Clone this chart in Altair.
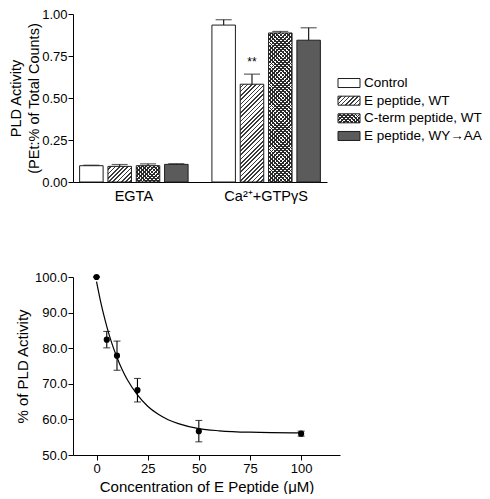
import altair as alt
import pandas as pd

# ---------------- data: top panel (bar chart) ----------------
groups = ["EGTA", "Ca²⁺+GTPγS"]
treatments = ["Control", "E peptide, WT", "C-term peptide, WT", "E peptide, WY→AA"]
egta_values = [0.097, 0.093, 0.097, 0.105]
egta_errors = [0.003, 0.011, 0.011, 0.004]
ca_values = [0.934, 0.582, 0.887, 0.844]
ca_errors = [0.032, 0.060, 0.009, 0.074]
egta_marks = ["", "", "", ""]
ca_marks = ["", "**", "", ""]

# ---------------- data: bottom panel (dose response) ----------------
conc = [0, 5, 10, 20, 50, 100]
activity = [100.0, 82.4, 77.9, 68.2, 56.7, 56.0]
activity_err = [0.0, 2.3, 4.1, 3.3, 3.0, 0.7]
fit_conc = [0, 2, 4, 6, 8, 10, 12.5, 15, 20, 25, 30, 35, 40, 50, 60, 75, 100]
fit_activity = [98.7, 93.1, 88.3, 84.1, 80.5, 77.4, 74.0, 71.2, 66.9, 63.7, 61.5,
                59.9, 58.8, 57.4, 56.8, 56.4, 56.2]

FONT = "Liberation Sans"
W_TOP, H_TOP = 254, 168
W_BOT, H_BOT = 267, 178

rows = []
for g, vals, errs, marks in zip(groups, [egta_values, ca_values],
                                [egta_errors, ca_errors], [egta_marks, ca_marks]):
    for t, v, e, m in zip(treatments, vals, errs, marks):
        rows.append({"group": g, "treatment": t, "value": v, "top": v + e, "sig": m})
top_df = pd.DataFrame(rows)

# bar geometry (for hatch gradients only)
PI_OUT, PO_OUT, PI_IN = 0.18, 0.05, 0.17
step = W_TOP / (len(groups) - PI_OUT + 2 * PO_OUT)
band = step * (1 - PI_OUT)
bar_w = band / (len(treatments) - PI_IN) * (1 - PI_IN)


def stripes(w, h, period, frac, color, bg, direction):
    s = (w + h) / (w * w + h * h)
    n = (w + h) / (period * 2 ** 0.5)
    stops = []
    k = 0
    while k < n:
        a = k / n
        b = min((k + 1 - frac) / n, 1.0)
        c = min((k + 1) / n, 1.0)
        stops += [
            {"offset": round(a, 5), "color": bg},
            {"offset": round(b, 5), "color": bg},
            {"offset": round(b, 5), "color": color},
            {"offset": round(c, 5), "color": color},
        ]
        k += 1
    if direction == "/":
        return {"gradient": "linear", "x1": 0, "y1": 0, "x2": w * s, "y2": h * s, "stops": stops}
    return {"gradient": "linear", "x1": 0, "y1": 1, "x2": w * s, "y2": 1 - h * s, "stops": stops}


CLEAR = "rgba(255,255,255,0)"


def patterns(t, w, h):
    if t == "E peptide, WT":
        return [stripes(w, h, 3.0, 0.38, "#3a3a3a", CLEAR, "/")]
    if t == "C-term peptide, WT":
        return [stripes(w, h, 2.7, 0.45, "#2a2a2a", CLEAR, "/"),
                stripes(w, h, 2.7, 0.45, "#2a2a2a", CLEAR, "\\")]
    return []


fill_scale = alt.Scale(domain=treatments, range=["white", "white", "white", "#5b5b5b"])

X = alt.X("group:N", sort=groups,
          scale=alt.Scale(domain=groups, paddingInner=PI_OUT, paddingOuter=PO_OUT),
          axis=alt.Axis(title=None, labelAngle=0, ticks=False, labelPadding=7))
XO = alt.XOffset("treatment:N", sort=treatments,
                 scale=alt.Scale(domain=treatments, paddingInner=PI_IN, paddingOuter=0))
TOP_AXIS = alt.Axis(values=[0, 0.25, 0.5, 0.75, 1.0], format=".2f",
                    title=["PLD Activity", "(PEt:% of Total Counts)"],
                    titleFontSize=14.5, titleLineHeight=18, titlePadding=0, labelPadding=1)


def ty(field):
    return alt.Y(field, type="quantitative", scale=alt.Scale(domain=[0, 1], nice=False),
                 axis=TOP_AXIS)


Y = ty("value")
base = alt.Chart(top_df)
bar_layers = [base.mark_bar(strokeWidth=0).encode(
    x=X, xOffset=XO, y=Y,
    fill=alt.Fill("treatment:N", scale=fill_scale, legend=None))]
for g, vals in zip(groups, [egta_values, ca_values]):
    for t, v in zip(treatments, vals):
        for grad in patterns(t, bar_w, v * H_TOP):
            bar_layers.append(
                base.transform_filter((alt.datum.group == g) & (alt.datum.treatment == t))
                .mark_bar(fill=grad, strokeWidth=0)
                .encode(x=X, xOffset=XO, y=Y))
bar_layers.append(base.mark_bar(fillOpacity=0, stroke="#1e1e1e", strokeWidth=1)
                  .encode(x=X, xOffset=XO, y=Y))
bar_layers.append(base.mark_rule(color="#1e1e1e", strokeWidth=1.2)
                  .encode(x=X, xOffset=XO, y=Y, y2="top:Q"))
bar_layers.append(base.mark_tick(orient="horizontal", size=16, thickness=1.2, color="#1e1e1e")
                  .encode(x=X, xOffset=XO, y=ty("top")))
bar_layers.append(base.transform_filter(alt.datum.sig != "")
                  .mark_text(dy=-5, fontSize=12, font=FONT, color="black", baseline="bottom")
                  .encode(x=X, xOffset=XO, y=ty("top"), text="sig:N"))
bars = alt.layer(*bar_layers)

# custom legend with hatched swatches
LEG_X0, LEG_X1, LEG_TX = 265, 287, 291
leg_df = pd.DataFrame({"treatment": treatments})
LY = alt.Y("treatment:N", sort=treatments, axis=None,
           scale=alt.Scale(domain=treatments, range=[60.2, 130.8],
                           paddingInner=0.49, paddingOuter=0.245))
leg_base = alt.Chart(leg_df)
leg_layers = [leg_base.mark_bar(strokeWidth=0).encode(
    x=alt.value(LEG_X0), x2=alt.value(LEG_X1), y=LY,
    fill=alt.Fill("treatment:N", scale=fill_scale, legend=None))]
for t in treatments:
    for grad in patterns(t, LEG_X1 - LEG_X0, 9):
        leg_layers.append(leg_base.transform_filter(alt.datum.treatment == t)
                          .mark_bar(fill=grad, strokeWidth=0)
                          .encode(x=alt.value(LEG_X0), x2=alt.value(LEG_X1), y=LY))
leg_layers.append(leg_base.mark_bar(fillOpacity=0, stroke="#1e1e1e", strokeWidth=1)
                  .encode(x=alt.value(LEG_X0), x2=alt.value(LEG_X1), y=LY))
leg_layers.append(leg_base.mark_text(align="left", baseline="middle", fontSize=13.5,
                                     font=FONT, color="black")
                  .encode(x=alt.value(LEG_TX), y=LY, text="treatment:N"))
legend = alt.layer(*leg_layers)

top = alt.layer(bars, legend).resolve_scale(y="independent").properties(
    width=W_TOP, height=H_TOP)

# ---------------- bottom panel ----------------
pts = pd.DataFrame({"conc": conc, "activity": activity, "err": activity_err})
pts["lo"] = pts["activity"] - pts["err"]
pts["hi"] = pts["activity"] + pts["err"]
fit = pd.DataFrame({"conc": fit_conc, "activity": fit_activity})

BX = alt.X("conc:Q", scale=alt.Scale(domain=[-11.5, 119], nice=False, zero=False),
           axis=alt.Axis(values=[0, 25, 50, 75, 100], title="Concentration of E Peptide (μM)",
                         titlePadding=4, labelFlush=False))
BOT_AXIS = alt.Axis(values=[50, 60, 70, 80, 90, 100], format=".1f",
                    title="% of PLD Activity", titlePadding=4, labelOverlap=False,
                    labelPadding=1)


def by(field):
    return alt.Y(field, type="quantitative",
                 scale=alt.Scale(domain=[50, 100], nice=False, zero=False), axis=BOT_AXIS)


curve = alt.Chart(fit).mark_line(color="black", strokeWidth=1.2, interpolate="monotone").encode(
    x=BX, y=by("activity"))
ebar = alt.Chart(pts).mark_rule(color="black", strokeWidth=1.1).encode(
    x=BX, y=by("lo"), y2="hi:Q")
cap_lo = alt.Chart(pts).mark_tick(orient="horizontal", size=7, thickness=1.1, color="black").encode(
    x=BX, y=by("lo"))
cap_hi = alt.Chart(pts).mark_tick(orient="horizontal", size=7, thickness=1.1, color="black").encode(
    x=BX, y=by("hi"))
dots = alt.Chart(pts).mark_circle(size=38, color="black", opacity=1).encode(
    x=BX, y=by("activity"))

bottom = alt.layer(curve, ebar, cap_lo, cap_hi, dots).properties(width=W_BOT, height=H_BOT)

chart = alt.vconcat(top, bottom, spacing=95, bounds="flush").properties(padding=0).configure_view(
    stroke=None
).configure_axis(
    labelFont=FONT, titleFont=FONT, labelColor="black", titleColor="black",
    domainColor="black", tickColor="black", titleFontWeight="normal", grid=False,
    domainWidth=1, tickWidth=1, labelFontSize=13, titleFontSize=15, labelPadding=2,
    tickSize=5
).configure_axisBand(
    labelFontSize=14.5, labelPadding=7
)

chart.save("out.html", embed_options={"renderer": "svg", "actions": False})
